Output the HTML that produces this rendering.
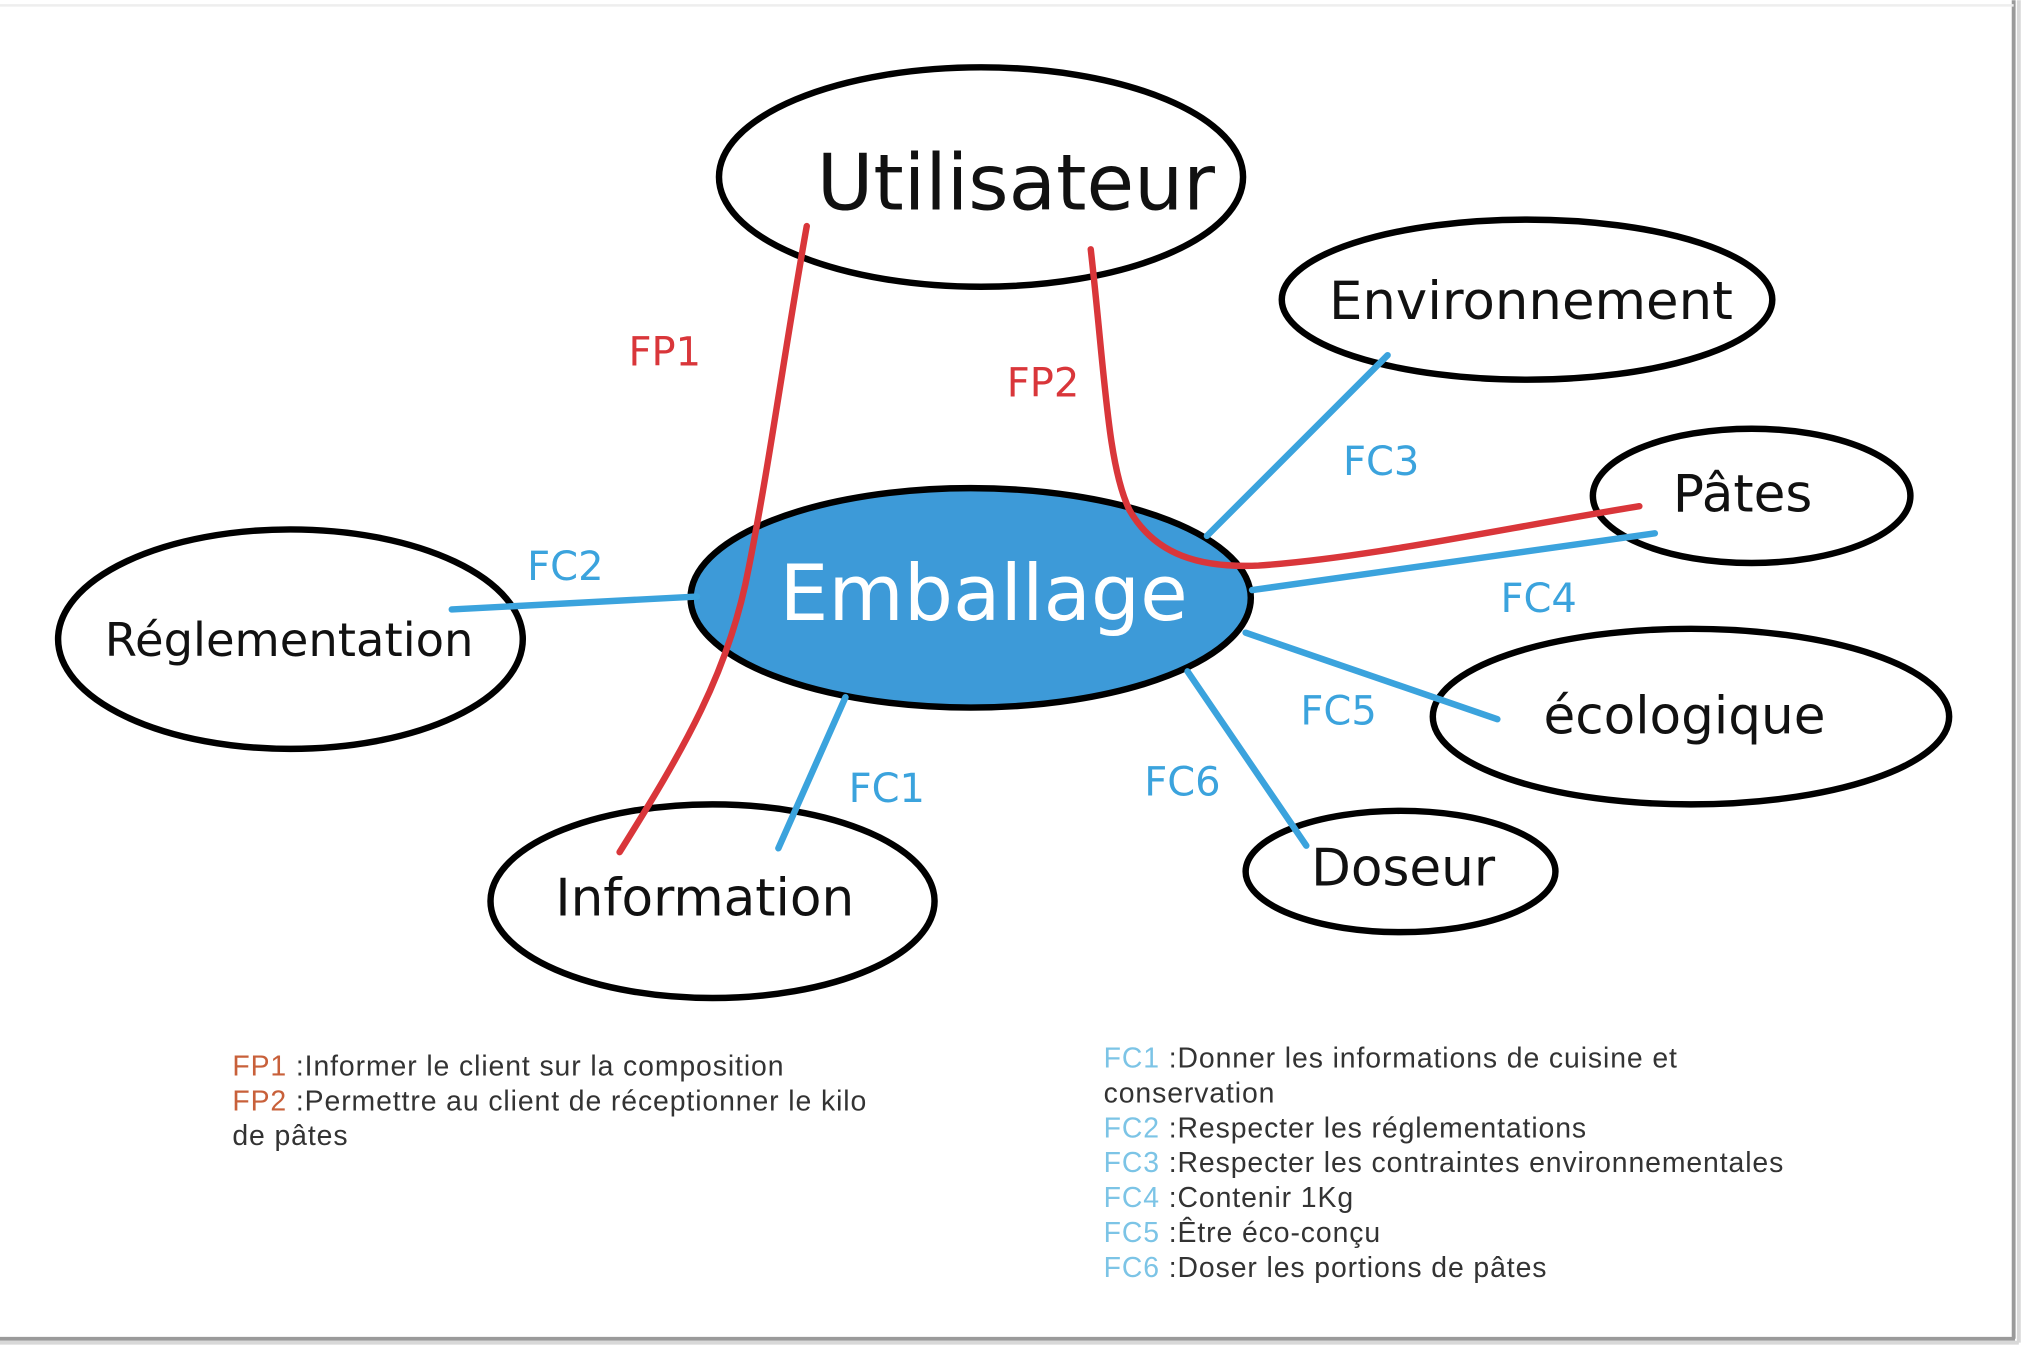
<!DOCTYPE html>
<html><head><meta charset="utf-8"><style>
html,body{margin:0;padding:0;background:#fff;}
svg{display:block;}
</style></head><body>
<svg width="2024" height="1348" viewBox="0 0 1568 1044" xmlns="http://www.w3.org/2000/svg" font-family="'DejaVu Sans','Liberation Sans',sans-serif">
<rect x="0" y="0" width="1568" height="1044" fill="#fff"/>
<line x1="1560" y1="0" x2="1560" y2="1037" stroke="#9a9a9a" stroke-width="3"/>
<line x1="0" y1="1037" x2="1561" y2="1037" stroke="#9a9a9a" stroke-width="3"/>
<line x1="0" y1="1040" x2="1564" y2="1040" stroke="#d8d8d8" stroke-width="3"/>
<line x1="1564" y1="0" x2="1564" y2="1040" stroke="#d8d8d8" stroke-width="3"/>
<line x1="0" y1="4" x2="1560" y2="4" stroke="#eee" stroke-width="2"/>

<g fill="none" stroke="#000" stroke-width="5">
<ellipse cx="760" cy="137" rx="203" ry="85"/>
<ellipse cx="1183" cy="232" rx="190" ry="62"/>
<ellipse cx="1357" cy="384" rx="123" ry="52"/>
<ellipse cx="1310" cy="555" rx="200" ry="68"/>
<ellipse cx="1085" cy="675" rx="120" ry="47"/>
<ellipse cx="552" cy="698" rx="172" ry="75"/>
<ellipse cx="225" cy="495" rx="180" ry="85"/>
</g>
<ellipse cx="752" cy="463" rx="217" ry="85" fill="#3d9ad8" stroke="#000" stroke-width="5"/>

<g stroke="#3ba3dd" stroke-width="5" stroke-linecap="round" fill="none">
<line x1="935" y1="415" x2="1075" y2="275"/>
<line x1="970" y1="457" x2="1282" y2="413"/>
<line x1="965" y1="490" x2="1160" y2="557"/>
<line x1="920" y1="520" x2="1012" y2="655"/>
<line x1="655" y1="540" x2="603" y2="657"/>
<line x1="350" y1="472" x2="540" y2="462"/>
</g>
<g stroke="#d9363a" stroke-width="5" stroke-linecap="round" fill="none">
<path d="M625,175 C608,270 596,360 580,440 C565,520 530,580 480,660"/>
<path d="M845,193 C856,290 858,360 875,395 C895,430 930,440 975,438 C1060,432 1160,410 1270,392"/>
</g>

<g font-size="54" fill="#111" text-anchor="middle">
<text x="787" y="162" font-size="60">Utilisateur</text>
<text x="1186" y="247" font-size="41">Environnement</text>
<text x="1350" y="396" font-size="40">Pâtes</text>
<text x="1305" y="568" font-size="40">écologique</text>
<text x="1087" y="686" font-size="40">Doseur</text>
<text x="546" y="709" font-size="40">Information</text>
<text x="224" y="508" font-size="36">Réglementation</text>
<text x="762" y="480" font-size="60" fill="#fff">Emballage</text>
</g>

<g font-size="31" fill="#d9363a" text-anchor="middle">
<text x="515" y="283">FP1</text>
<text x="808" y="307">FP2</text>
</g>
<g font-size="31" fill="#3ba3dd" text-anchor="middle">
<text x="1070" y="368">FC3</text>
<text x="438" y="449">FC2</text>
<text x="1192" y="474">FC4</text>
<text x="1037" y="561">FC5</text>
<text x="687" y="621">FC1</text>
<text x="916" y="616">FC6</text>
</g>

<g font-family="'Liberation Sans',sans-serif" font-size="22" letter-spacing="0.7" fill="#333">
<text x="180" y="833"><tspan fill="#c8603a">FP1 </tspan>:Informer le client sur la composition</text>
<text x="180" y="860"><tspan fill="#c8603a">FP2 </tspan>:Permettre au client de réceptionner le kilo</text>
<text x="180" y="887">de pâtes</text>

<text x="855" y="827"><tspan fill="#7cc4e6">FC1 </tspan>:Donner les informations de cuisine et</text>
<text x="855" y="854">conservation</text>
<text x="855" y="881"><tspan fill="#7cc4e6">FC2 </tspan>:Respecter les réglementations</text>
<text x="855" y="908"><tspan fill="#7cc4e6">FC3 </tspan>:Respecter les contraintes environnementales</text>
<text x="855" y="935"><tspan fill="#7cc4e6">FC4 </tspan>:Contenir 1Kg</text>
<text x="855" y="962"><tspan fill="#7cc4e6">FC5 </tspan>:Être éco-conçu</text>
<text x="855" y="989"><tspan fill="#7cc4e6">FC6 </tspan>:Doser les portions de pâtes</text>
</g>
</svg>
</body></html>
